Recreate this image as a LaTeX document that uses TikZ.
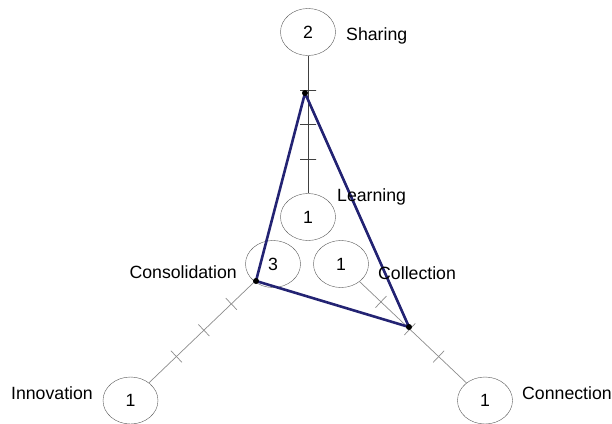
\documentclass[tikz,border=0pt]{standalone}
\usepackage{fontspec}
\setmainfont{Liberation Sans}
\usetikzlibrary{shapes.geometric,positioning}
\definecolor{navyline}{RGB}{35,35,115}
\tikzset
{
    scorenode/.style = {ellipse, draw=black!65, minimum width=55pt, minimum height=47pt, inner sep=0pt},
    axisname/.style  = {inner sep=0pt},
    mainaxis/.style  = {draw=black!75, line width=0.8pt},
    sideaxis/.style  = {draw=black!45, line width=0.7pt},
    tickmark/.style  = {draw, sloped, minimum width=0pt, minimum height=16pt, inner sep=0pt, outer sep=0pt},
    profile/.style   = {draw=navyline, line width=2.6pt, line join=round},
    vertexdot/.style = {circle, fill=black, inner sep=0pt, minimum size=6pt}
}

\begin{document}
\begin{tikzpicture}[x=1pt, y=-1pt, font=\fontsize{17.7pt}{20pt}\selectfont]
\useasboundingbox (0,0) rectangle (612,423);
% score ellipses
\node[scorenode] (sharing) at (308,32) {2};
\node[scorenode] (learning) at (308,217) {1};
\node[scorenode] (consolidation) at (273,264) {3};
\node[scorenode] (collection) at (341,264) {1};
\node[scorenode] (innovation) at (130.5,400.5) {1};
\node[scorenode] (connection) at (485,400.5) {1};
% axes with quarter ticks
\draw[mainaxis] (sharing) -- (learning)
    node[tickmark,pos=0.25]{} node[tickmark,pos=0.5]{} node[tickmark,pos=0.75]{};
\draw[sideaxis] (consolidation) -- (innovation)
    node[tickmark,pos=0.22]{} node[tickmark,pos=0.48]{} node[tickmark,pos=0.74]{};
\draw[sideaxis] (collection) -- (connection)
    node[tickmark,pos=0.2]{} node[tickmark,pos=0.47]{} node[tickmark,pos=0.74]{};
% profile triangle
\coordinate (ptop) at (305,93);
\coordinate (pleft) at (256,281);
\coordinate (pright) at (409,327);
\draw[profile] (ptop) -- (pleft) -- (pright) -- cycle;
\node[vertexdot] at (ptop) {};
\node[vertexdot] at (pleft) {};
\node[vertexdot] at (pright) {};
% axis names
\node[axisname,anchor=west] (sharelab) at (346,36) {Sharing};
\node[axisname,anchor=west] (learnlab) at (337,197) {Learning};
\node[axisname,anchor=east] (consolab) at (237,272) {Consolidation};
\node[axisname,anchor=west] (collelab) at (378,273) {Collection};
\node[axisname,anchor=east] (innolab) at (93,393) {Innovation};
\node[axisname,anchor=west] (connlab) at (522,393) {Connection};
\end{tikzpicture}
\end{document}
